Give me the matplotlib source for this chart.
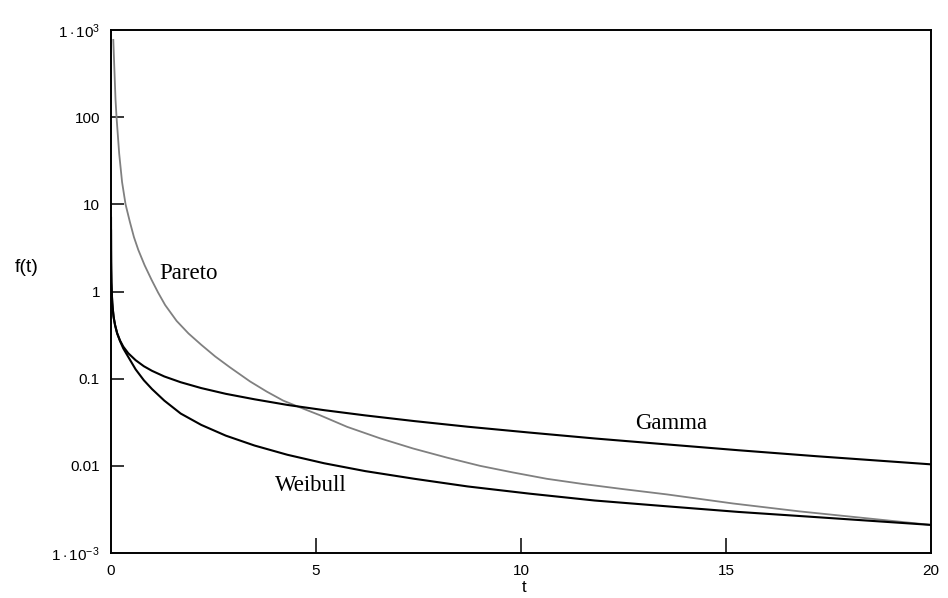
import numpy as np
import matplotlib
matplotlib.use("Agg")
import matplotlib.pyplot as plt

plt.rcParams['font.family'] = ['Liberation Sans', 'DejaVu Sans']
plt.rcParams['mathtext.fontset'] = 'custom'
plt.rcParams['mathtext.rm'] = 'Liberation Sans'
plt.rcParams['mathtext.it'] = 'Liberation Sans'

# densités relevées (t, f(t))
t_pareto = [0.056, 0.08, 0.11, 0.135, 0.2, 0.27, 0.355, 0.46, 0.56, 0.666, 0.82, 0.99,
            1.15, 1.32, 1.6, 1.89, 2.2, 2.54, 2.9, 3.39, 3.8, 4.2, 4.6, 5.1, 5.76,
            6.56, 7.37, 8.2, 9.0, 9.8, 10.63, 11.5, 12.5, 13.56, 15.17, 16.8, 18.44, 20.0]
f_pareto = [770, 380, 160, 100, 38, 18, 10, 6.3, 4.2, 3.0, 2.0, 1.36,
            0.97, 0.70, 0.46, 0.33, 0.245, 0.18, 0.135, 0.093, 0.071, 0.056, 0.047, 0.038, 0.028,
            0.0207, 0.0158, 0.0124, 0.0100, 0.0084, 0.0071, 0.0062, 0.0054, 0.0047, 0.0037, 0.0030, 0.0025, 0.0021]

t_gamma = [0.0004, 0.002, 0.005, 0.01, 0.02, 0.04, 0.07, 0.1, 0.15, 0.22, 0.3, 0.42,
           0.6, 0.8, 1.0, 1.3, 1.7, 2.2, 2.8, 3.5, 4.3, 5.2, 6.2, 7.4, 8.7, 10.2,
           11.8, 13.5, 15.3, 17.2, 20.0]
f_gamma = [7, 2.9, 1.8, 1.3, 0.92, 0.65, 0.49, 0.41, 0.333, 0.274, 0.233, 0.196,
           0.163, 0.139, 0.123, 0.106, 0.091, 0.078, 0.067, 0.058, 0.050, 0.0435, 0.0379, 0.0326, 0.0281, 0.0241,
           0.0206, 0.0177, 0.0151, 0.0129, 0.0104]

t_weibull = [0.0006, 0.003, 0.01, 0.03, 0.06, 0.1, 0.15, 0.22, 0.3, 0.42, 0.6, 0.8,
             1.0, 1.3, 1.7, 2.2, 2.8, 3.5, 4.3, 5.2, 6.2, 7.4, 8.7, 10.2, 11.8,
             13.5, 15.3, 17.2, 20.0]
f_weibull = [5, 2.2, 1.25, 0.74, 0.52, 0.41, 0.33, 0.27, 0.222, 0.178, 0.128, 0.096,
             0.076, 0.056, 0.0398, 0.0295, 0.0222, 0.0171, 0.0134, 0.0107, 0.0087, 0.0071, 0.0058, 0.0048, 0.0040,
             0.00345, 0.00296, 0.00258, 0.0021]

yticks = [1e-3, 0.01, 0.1, 1, 10, 100, 1e3]
ytick_labels = [r'$1\cdot10^{-3}$', '0.01', '0.1', '1', '10', '100', r'$1\cdot10^{3}$']
xticks = [0, 5, 10, 15, 20]

fig = plt.figure(figsize=(9.48, 5.98), dpi=100)
ax = fig.add_axes([111/948, 45/598, 820/948, 523/598])

ax.plot(t_pareto, f_pareto, color='#808080', lw=1.3)
ax.plot(t_gamma, f_gamma, color='black', lw=1.5)
ax.plot(t_weibull, f_weibull, color='black', lw=1.5)

ax.set_yscale('log')
ax.set_xlim(0, 20)
ax.set_ylim(1e-3, 1e3)
ax.minorticks_off()
ax.set_yticks(yticks)
ax.set_yticklabels(ytick_labels, fontsize=11)
ax.set_xticks(xticks)
ax.set_xticklabels([str(x) for x in xticks], fontsize=11)

ax.tick_params(axis='y', direction='in', length=9.5, width=1.1, pad=8)
ax.tick_params(axis='x', direction='in', length=10.8, width=1.1, pad=8)
# pas de graduation aux extrémités
for tk in ax.yaxis.get_major_ticks()[::6]:
    tk.tick1line.set_visible(False)
for tk in [ax.xaxis.get_major_ticks()[0], ax.xaxis.get_major_ticks()[-1]]:
    tk.tick1line.set_visible(False)

for s in ax.spines.values():
    s.set_linewidth(1.4)

serif = ['Liberation Serif', 'DejaVu Serif']
ax.text(1.88, 1.59, 'Pareto', family=serif, fontsize=16.5, ha='center', va='center')
ax.text(13.66, 0.0303, 'Gamma', family=serif, fontsize=16.5, ha='center', va='center')
ax.text(4.88, 0.0059, 'Weibull', family=serif, fontsize=16.5, ha='center', va='center')

fig.text(27/948, 1 - 268/598, 'f(t)', fontsize=14, ha='center', va='center')
fig.text(524/948, 1 - 588/598, 't', fontsize=12, ha='center', va='center')

fig.savefig('out.png', dpi=100)
